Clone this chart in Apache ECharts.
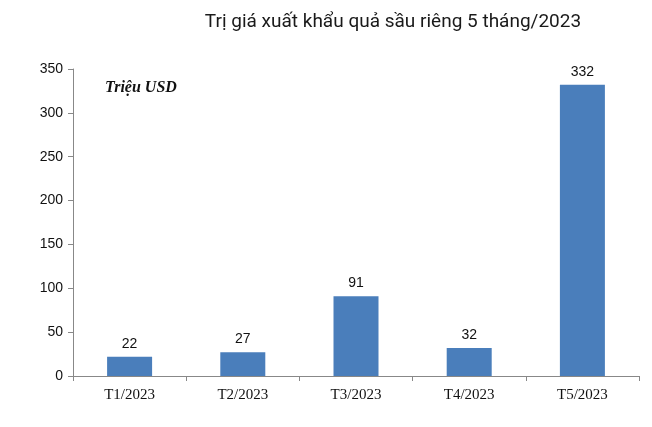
<!DOCTYPE html>
<html><head><meta charset="utf-8">
<script src="https://cdn.jsdelivr.net/npm/echarts@6/dist/echarts.min.js"></script>
<style>html,body{margin:0;padding:0;background:#fff}#c{width:652px;height:427px}</style>
</head><body><div id="c"></div>
<script>
const categories = ['T1/2023','T2/2023','T3/2023','T4/2023','T5/2023'];
const values = [22, 27, 91, 32, 332];
const chart = echarts.init(document.getElementById('c'));
chart.setOption({
  animation:false,
  title:{text:'Trị giá xuất khẩu quả sầu riêng 5 tháng/2023',left:388,top:8,textAlign:'center',
    textStyle:{fontFamily:'Roboto',fontSize:19,fontWeight:'normal',color:'#1a1a1a'}},
  graphic:[{type:'text',left:105,top:80,style:{text:'Triệu USD',font:'italic bold 16px "Liberation Serif"',fill:'#111'}}],
  grid:{left:73,right:13,top:69,bottom:51},
  xAxis:{type:'category',data:categories,
    axisLine:{lineStyle:{color:'#888'}},axisTick:{show:true,lineStyle:{color:'#888'}},
    axisLabel:{fontFamily:'Liberation Serif',fontSize:15,color:'#111',margin:12}},
  yAxis:{type:'value',min:0,max:350,interval:50,
    axisLine:{show:true,lineStyle:{color:'#888'}},axisTick:{show:true,lineStyle:{color:'#888'}},
    splitLine:{show:false},
    axisLabel:{fontFamily:'Liberation Sans',fontSize:14,color:'#111',margin:10}},
  series:[{type:'bar',data:values,barWidth:45,itemStyle:{color:'#4a7ebb'},
    label:{show:true,position:'top',distance:6,fontFamily:'Liberation Sans',fontSize:14,color:'#111'}}]
});
</script></body></html>
